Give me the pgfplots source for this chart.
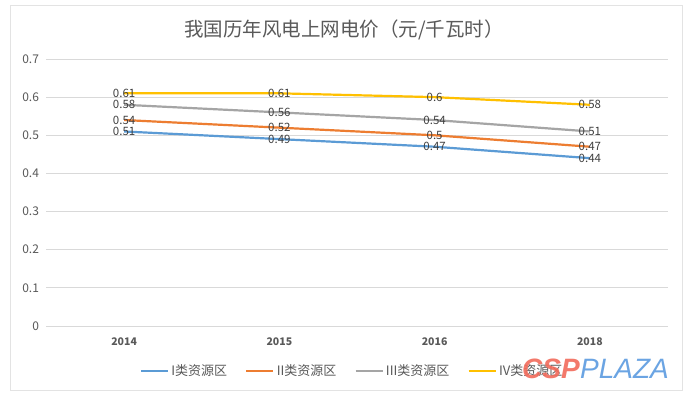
\documentclass[border=0pt]{standalone}
\usepackage{pgfplots}
\pgfplotsset{compat=1.18}
\usepackage{fontspec}
\setmainfont{Noto Sans CJK SC}
\newfontfamily\wmfont{Liberation Sans}
\definecolor{c1}{HTML}{5B9BD5}
\definecolor{c2}{HTML}{ED7D31}
\definecolor{c3}{HTML}{A5A5A5}
\definecolor{c4}{HTML}{FFC000}
\definecolor{txt}{HTML}{595959}
\definecolor{lbl}{HTML}{404040}
\definecolor{gridc}{HTML}{D9D9D9}
\definecolor{framec}{HTML}{E3E3E3}
\definecolor{wmred}{HTML}{F26B5B}
\definecolor{wmblue}{HTML}{5B9BE0}
\begin{document}
\begin{tikzpicture}
\path[use as bounding box] (0pt,0pt) rectangle (693pt,396pt);
\fill[white] (0pt,0pt) rectangle (693pt,396pt);
\draw[framec,line width=1pt] (10pt,5pt) rectangle (682pt,390pt);
\node[font=\fontsize{19.5}{22}\selectfont, text=txt] at (344pt,366pt) {我国历年风电上网电价（元/千瓦时）};
\begin{axis}[
  at={(46.5pt,70pt)}, anchor=south west, scale only axis,
  width=621pt, height=267pt,
  xmin=-0.5, xmax=3.5, ymin=0, ymax=0.7,
  ytick={0,0.1,0.2,0.3,0.4,0.5,0.6,0.7},
  xtick={0,1,2,3}, xticklabels={2014,2015,2016,2018},
  axis line style={draw=none}, major tick length=0pt,
  ymajorgrids, grid style={gridc, line width=0.8pt},
  /pgf/number format/assume math mode=true,
  yticklabel style={font=\fontsize{12}{14}\selectfont, text=txt, /pgf/number format/fixed, /pgf/number format/precision=1, xshift=-4pt},
  xticklabel style={font=\fontsize{10.5}{12}\selectfont\bfseries, text=txt, yshift=-8pt},
  nodes near coords,
  every node near coord/.append style={anchor=center, font=\fontsize{11.5}{13}\selectfont, text=lbl, /pgf/number format/assume math mode=true},
  legend columns=4,
  legend style={draw=none, fill=none, at={(0.492,-0.1685)}, anchor=center,
    font=\fontsize{13}{15}\selectfont, text=txt,
    /tikz/every even column/.style={column sep=16pt}},
  legend image code/.code={\draw[#1] (0pt,0pt) -- (27pt,0pt);},
  legend image post style={line width=2.6pt},
]
\addplot[c1, line width=2.2pt, mark=none] coordinates {(0,0.51) (1,0.49) (2,0.47) (3,0.44)};
\addlegendentry{I类资源区}
\addplot[c2, line width=2.2pt, mark=none] coordinates {(0,0.54) (1,0.52) (2,0.5) (3,0.47)};
\addlegendentry{II类资源区}
\addplot[c3, line width=2.2pt, mark=none] coordinates {(0,0.58) (1,0.56) (2,0.54) (3,0.51)};
\addlegendentry{III类资源区}
\addplot[c4, line width=2.2pt, mark=none] coordinates {(0,0.61) (1,0.61) (2,0.6) (3,0.58)};
\addlegendentry{IV类资源区}
\end{axis}
\node[anchor=west, inner sep=0pt, font=\wmfont\fontsize{28}{28}\selectfont\bfseries\itshape, text=wmred, opacity=0.9] (csp) at (522pt,27pt) {CSP};
\node[anchor=west, inner sep=0pt, font=\wmfont\fontsize{28}{28}\selectfont\itshape, text=wmblue, opacity=0.9] at (csp.east) {PLAZA};
\end{tikzpicture}
\end{document}
